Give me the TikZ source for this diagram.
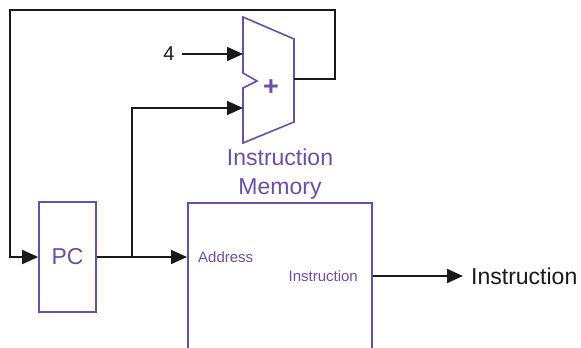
\documentclass[tikz,border=0pt]{standalone}
\usepackage{fontspec}
\setmainfont{Liberation Sans}
\usetikzlibrary{arrows.meta, positioning}
\definecolor{unitpurple}{RGB}{108,78,168}
\definecolor{wireblack}{RGB}{25,25,25}
\tikzset{
    unit/.style = {rectangle, draw=unitpurple, line width=1.6pt, inner sep=0pt, text=unitpurple, font=\fontsize{23}{27}\selectfont},
    port/.style = {text=unitpurple, font=\fontsize{15}{18}\selectfont, inner sep=0pt},
    wire/.style = {line width=1.6pt, draw=wireblack, -{Triangle[length=16pt, width=14pt]}},
    big/.style = {text=wireblack, font=\fontsize{23}{27}\selectfont}
}

\begin{document}
\begin{tikzpicture}[x=1pt, y=-1pt]
        \useasboundingbox (0,0) rectangle (581,348);
        \clip (0,0) rectangle (581,348);

        % Blocks
        \node [unit, minimum width=57pt, minimum height=110pt] (pc) at (67.5,257) {PC};
        \node [unit, minimum width=184pt, minimum height=180pt, anchor=north west] (imem) at (187,202) {};
        \node [port, anchor=west] (addr) at (198,257) {Address};
        \node [port, anchor=east] (instr) at (358,276) {Instruction};
        \node [text=unitpurple, font=\fontsize{23}{29}\selectfont, align=center] (imemlabel) at (280,174) {Instruction\\Memory};

        % Adder
        \draw [draw=unitpurple, line width=1.6pt, line join=miter]
            (243,17) -- (294,39) -- (294,122) -- (243,143) -- (243,88) -- (257,81) -- (243,73) -- cycle;
        \node [text=unitpurple, font=\fontsize{27}{30}\selectfont\bfseries] (plus) at (271,88) {+};
        \coordinate (adda) at (243,54);
        \coordinate (addb) at (243,108);
        \coordinate (addout) at (294,79);

        \node [big, font=\fontsize{20}{24}\selectfont] (four) at (169,54) {4};
        \node [big, anchor=west, inner xsep=8pt] (out) at (463,276) {Instruction};

        % Corners and branch point
        \coordinate (loopr) at (335,10);
        \coordinate (loopl) at (10,10);
        \coordinate (fork) at (132,257);

        % Wires
        \draw [wire, shorten <=4pt] (four) -- (adda);
        \draw [wire] (addout) -| (loopr) -- (loopl) |- (pc.west);
        \draw [wire] (pc.east) -- (pc.east -| imem.west);
        \draw [wire] (fork) |- (addb);
        \draw [wire] (instr.east -| imem.east) -- (out.west);

    \end{tikzpicture}
\end{document}
